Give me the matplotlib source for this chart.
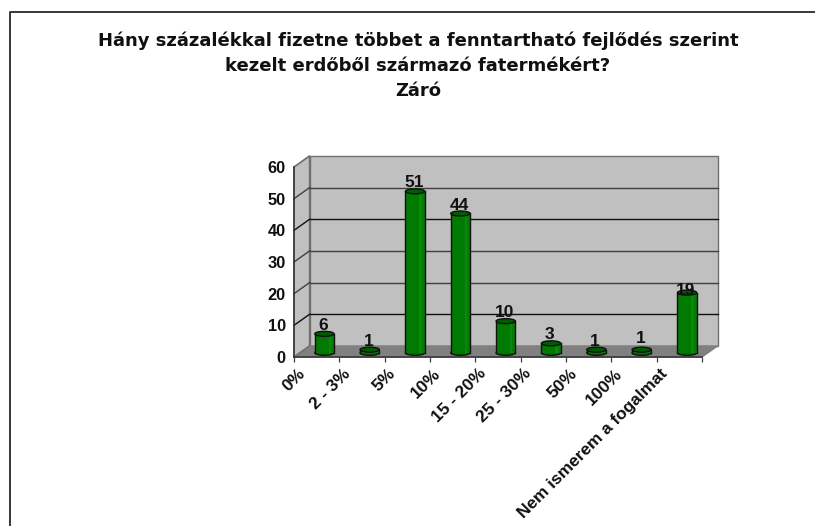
import matplotlib
matplotlib.use("Agg")
import matplotlib.pyplot as plt
from matplotlib.patches import Ellipse, Polygon, Rectangle

title = "Hány százalékkal fizetne többet a fenntartható fejlődés szerint\nkezelt erdőből származó fatermékért?\nZáró"
categories = ["0%", "2 - 3%", "5%", "10%", "15 - 20%", "25 - 30%", "50%", "100%", "Nem ismerem a fogalmat"]
values = [6, 1, 51, 44, 10, 3, 1, 1, 19]
y_ticks = [0, 10, 20, 30, 40, 50, 60]

W, H = 815, 526
plt.rcParams["font.family"] = ["Liberation Sans", "DejaVu Sans"]
plt.rcParams["font.weight"] = "bold"

fig = plt.figure(figsize=(W / 100, H / 100), dpi=100)
fig.patch.set_facecolor("white")

# page border: left and top only, top runs off the page
fig.add_artist(plt.Line2D([9.7 / W, 9.7 / W, 1], [0, 1 - 11.7 / H, 1 - 11.7 / H],
                          color="#383838", lw=1.4))
fig.text(418 / W, 1 - 31.5 / H, title, ha="center", va="top", fontsize=13, fontweight="bold",
         family=["DejaVu Sans"], linespacing=1.5, color="#101010")

# front plane of the 3d chart
x0, x1, y0, y1 = 294, 702, 357, 167
ax = fig.add_axes([x0 / W, 1 - y0 / H, (x1 - x0) / W, (y0 - y1) / H])
ax.set_xlim(0, len(categories))
ax.set_ylim(0, 60)
ax.patch.set_visible(False)
for s in ax.spines.values():
    s.set_visible(False)

px_x = (x1 - x0) / len(categories)
px_y = (y0 - y1) / 60
dx = 15.5 / px_x
dy = 11 / px_y
n = len(categories)
wall = "#c0c0c0"
edge = "#707070"

# walls and floor
ax.add_patch(Polygon([(0, 0), (dx, dy), (dx, 60 + dy), (0, 60)], fc=wall, ec=edge, lw=1.0, clip_on=False, zorder=1))
ax.add_patch(Rectangle((dx, dy), n, 60, fc=wall, ec=edge, lw=1.0, clip_on=False, zorder=1))
ax.add_patch(Polygon([(0, 0), (n, 0), (n + dx, dy), (dx, dy)], fc="#808080", ec="#808080", lw=1, clip_on=False, zorder=2))

for t in y_ticks[1:-1]:
    c = "#101010" if t in (10, 40) else "#404040"
    ax.plot([dx, n + dx], [t + dy, t + dy], color=c, lw=1.0, clip_on=False, zorder=2)
    ax.plot([0, dx], [t, t + dy], color=c, lw=1.0, clip_on=False, zorder=2)
for t in [0, 60]:
    ax.plot([0, dx], [t, t + dy], color=edge, lw=1.0, clip_on=False, zorder=2)

# axis lines and ticks
ax.plot([0, 0], [0, 60], color="#303030", lw=1.1, clip_on=False, zorder=3)
ax.plot([0, n], [0, 0], color="#303030", lw=1.1, clip_on=False, zorder=3)
ax.set_xticks(range(n + 1))
ax.set_xticklabels([])
ax.tick_params(axis="x", length=3.6, width=0.9, color="#404040", pad=0)
ax.set_yticks(y_ticks)
ax.set_yticklabels([str(t) for t in y_ticks], fontsize=11.8, fontweight="bold", color="#101010")
ax.tick_params(axis="y", length=1, width=0.9, color="#303030", pad=5)

# rotated category labels end left of the bar gaps
for i, c in enumerate(categories):
    ax.annotate(c, xy=(i + 0.5, 0), xytext=(-14, -6.5), textcoords="offset points", rotation=45,
                rotation_mode="anchor", ha="right", va="top", fontsize=12.4, fontweight="bold",
                color="#101010", annotation_clip=False)

# cylinders
bw = 0.425
eh = 5.0 / px_y
base = dy * 0.38
label_shift = [0, 0, 0, 0, 0, 0, 0, 1, -1.9]
for i, v in enumerate(values):
    cx = i + 0.5 + dx / 2
    l, r = cx - bw / 2, cx + bw / 2
    top = base + v
    z = 4 + i
    ax.add_patch(Ellipse((cx, base), bw, eh, fc="#007000", ec="#101010", lw=1.0, clip_on=False, zorder=z))
    ax.add_patch(Rectangle((l, base), bw, v, fc="#007a00", ec="none", clip_on=False, zorder=z))
    ax.add_patch(Rectangle((l + bw * 0.72, base), bw * 0.13, v, fc="#0a8a0a", ec="none", clip_on=False, zorder=z))
    ax.add_patch(Rectangle((l + bw * 0.85, base), bw * 0.15, v, fc="#067c06", ec="none", clip_on=False, zorder=z))
    ax.plot([l, l], [base, top], color="#101010", lw=1.0, clip_on=False, zorder=z)
    ax.plot([r, r], [base, top], color="#101010", lw=1.0, clip_on=False, zorder=z)
    ax.add_patch(Ellipse((cx, top), bw, eh, fc="#005c00", ec="#101010", lw=1.0, clip_on=False, zorder=z))
    ax.text(cx - 0.03, top + 0.3 + label_shift[i], str(v), ha="center", va="bottom", fontsize=12.5, fontweight="bold",
            color="#101010", clip_on=False, zorder=20)

fig.savefig("out.png", dpi=100)
plt.close(fig)
